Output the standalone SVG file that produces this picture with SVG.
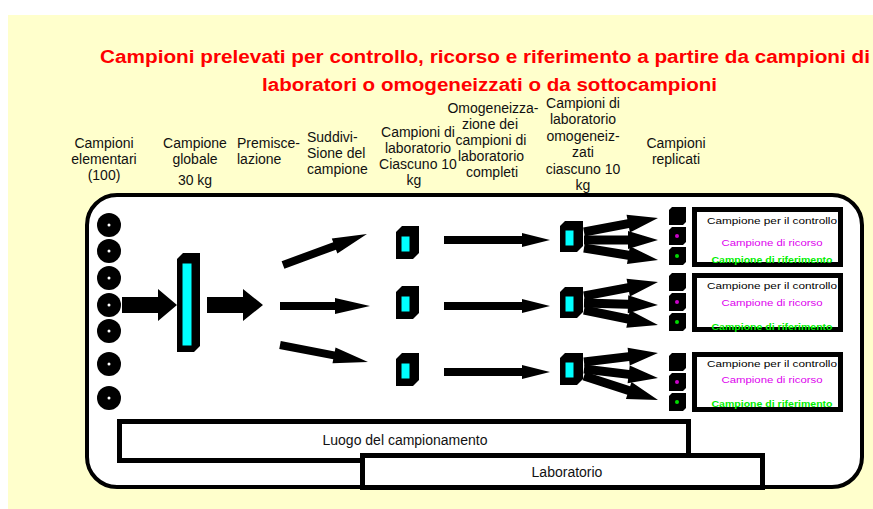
<svg xmlns="http://www.w3.org/2000/svg" width="873" height="509" viewBox="0 0 873 509">
<style>
.lbl{font-family:"Liberation Sans",Arial,sans-serif;font-size:14px;fill:#111;text-anchor:middle}
.lbs{font-family:"Liberation Sans",Arial,sans-serif;font-size:14px;fill:#111}
.ttl{font-family:"Liberation Sans",Arial,sans-serif;font-size:18px;font-weight:bold;fill:#FF0000;text-anchor:middle}
.bt{font-family:"Liberation Sans",Arial,sans-serif;font-size:9.5px;text-anchor:middle}
.blk{fill:#000}
.cy{fill:#00FFFF;stroke:#000;stroke-width:1}
.box{fill:#fff;stroke:#000;stroke-width:5}
.arr{fill:#000}
</style>
<rect x="8" y="15" width="865" height="494" fill="#FFFFCC"/>
<text class="ttl" x="485" y="63" textLength="770" lengthAdjust="spacingAndGlyphs">Campioni prelevati per controllo, ricorso e riferimento a partire da campioni di</text>
<text class="ttl" x="489.5" y="91" textLength="455" lengthAdjust="spacingAndGlyphs">laboratori o omogeneizzati o da sottocampioni</text>

<g id="labels">
<text class="lbl" x="104" y="148">Campioni</text>
<text class="lbl" x="104" y="164">elementari</text>
<text class="lbl" x="104" y="180">(100)</text>
<text class="lbl" x="195" y="148">Campione</text>
<text class="lbl" x="195" y="164">globale</text>
<text class="lbl" x="195" y="185">30 kg</text>
<text class="lbs" x="237" y="148">Premisce-</text>
<text class="lbs" x="237" y="164">lazione</text>
<text class="lbs" x="307" y="142">Suddivi-</text>
<text class="lbs" x="307" y="158">Sione del</text>
<text class="lbs" x="307" y="174">campione</text>
<text class="lbl" x="418" y="137">Campioni di</text>
<text class="lbl" x="418" y="153">laboratorio</text>
<text class="lbl" x="418" y="169">Ciascuno 10</text>
<text class="lbl" x="414" y="185">kg</text>
<text class="lbl" x="493" y="113">Omogeneizza-</text>
<text class="lbl" x="490" y="129">zione dei</text>
<text class="lbl" x="491" y="145">campioni di</text>
<text class="lbl" x="491" y="161">laboratorio</text>
<text class="lbl" x="492" y="177">completi</text>
<text class="lbl" x="583" y="108">Campioni di</text>
<text class="lbl" x="583" y="124">laboratorio</text>
<text class="lbl" x="583" y="141">omogeneiz-</text>
<text class="lbl" x="583" y="157">zati</text>
<text class="lbl" x="583" y="174">ciascuno 10</text>
<text class="lbl" x="583" y="190">kg</text>
<text class="lbl" x="676" y="148">Campioni</text>
<text class="lbl" x="676" y="164">replicati</text>
</g>

<rect id="frame" x="87" y="195" width="775" height="292" rx="30" ry="30" fill="#fff" stroke="#000" stroke-width="4"/>

<g id="elementari">
<circle cx="109" cy="225" r="12" class="blk"/><circle cx="109" cy="225" r="1.5" fill="#fff"/>
<circle cx="109" cy="251" r="12" class="blk"/><circle cx="109" cy="251" r="1.5" fill="#fff"/>
<circle cx="109" cy="278" r="12" class="blk"/><circle cx="109" cy="278" r="1.5" fill="#fff"/>
<circle cx="109" cy="305" r="12" class="blk"/><circle cx="109" cy="305" r="1.5" fill="#fff"/>
<circle cx="109" cy="331" r="12" class="blk"/><circle cx="109" cy="331" r="1.5" fill="#fff"/>
<circle cx="109" cy="364" r="12" class="blk"/><circle cx="109" cy="364" r="1.5" fill="#fff"/>
<circle cx="109" cy="398" r="12" class="blk"/><circle cx="109" cy="398" r="1.5" fill="#fff"/>
</g>

<g id="globale">
<polygon class="blk" points="177,259 183,253 200,253 200,346 194,352 177,352"/>
<rect class="cy" x="182" y="263" width="10" height="83"/>
</g>

<g id="lab1">
<polygon class="blk" points="396,232 402,226 419,226 419,253 413,259 396,259"/>
<rect class="cy" x="401" y="236" width="9" height="16"/>
</g>
<g id="lab2">
<polygon class="blk" points="396,292 402,286 419,286 419,313 413,319 396,319"/>
<rect class="cy" x="401" y="296" width="9" height="16"/>
</g>
<g id="lab3">
<polygon class="blk" points="396,359 402,353 419,353 419,380 413,386 396,386"/>
<rect class="cy" x="401" y="363" width="9" height="16"/>
</g>

<g id="omog1">
<polygon class="blk" points="560,226 565,221 583,221 583,246 577,252 560,252"/>
<rect class="cy" x="565" y="230" width="9" height="16"/>
</g>
<g id="omog2">
<polygon class="blk" points="560,292 565,287 583,287 583,312 577,318 560,318"/>
<rect class="cy" x="565" y="296" width="9" height="16"/>
</g>
<g id="omog3">
<polygon class="blk" points="560,358 565,353 583,353 583,379 577,385 560,385"/>
<rect class="cy" x="565" y="362" width="9" height="16"/>
</g>

<g id="repl1">
<polygon class="blk" points="672,207 686,207 686,222 683,225 669,225 669,210"/>
<polygon class="blk" points="672,227 686,227 686,242 683,245 669,245 669,230"/>
<circle cx="677" cy="236" r="2" fill="#CC00CC"/>
<polygon class="blk" points="672,247 686,247 686,262 683,265 669,265 669,250"/>
<circle cx="677" cy="256" r="2" fill="#00DD00"/>
</g>
<g id="repl2">
<polygon class="blk" points="672,273 686,273 686,288 683,291 669,291 669,276"/>
<polygon class="blk" points="672,293 686,293 686,308 683,311 669,311 669,296"/>
<circle cx="677" cy="302" r="2" fill="#CC00CC"/>
<polygon class="blk" points="672,313 686,313 686,328 683,331 669,331 669,316"/>
<circle cx="677" cy="322" r="2" fill="#00DD00"/>
</g>
<g id="repl3">
<polygon class="blk" points="672,353 686,353 686,368 683,371 669,371 669,356"/>
<polygon class="blk" points="672,373 686,373 686,388 683,391 669,391 669,376"/>
<circle cx="677" cy="382" r="2" fill="#CC00CC"/>
<polygon class="blk" points="672,393 686,393 686,408 683,411 669,411 669,396"/>
<circle cx="677" cy="402" r="2" fill="#00DD00"/>
</g>

<g id="box1">
<rect class="box" x="694.5" y="209.5" width="146" height="55"/>
<text class="bt" x="772" y="224" fill="#000" textLength="130" lengthAdjust="spacingAndGlyphs">Campione per il controllo</text>
<text class="bt" x="772" y="246" fill="#DD00EE" textLength="101" lengthAdjust="spacingAndGlyphs">Campione di ricorso</text>
<text class="bt" x="772" y="263" fill="#00EE00" font-weight="bold" textLength="121" lengthAdjust="spacingAndGlyphs">Campione di riferimento</text>
</g>
<g id="box2">
<rect class="box" x="694.5" y="275.5" width="146" height="54"/>
<text class="bt" x="772" y="289" fill="#000" textLength="130" lengthAdjust="spacingAndGlyphs">Campione per il controllo</text>
<text class="bt" x="772" y="306" fill="#DD00EE" textLength="101" lengthAdjust="spacingAndGlyphs">Campione di ricorso</text>
<text class="bt" x="772" y="330" fill="#00EE00" font-weight="bold" textLength="121" lengthAdjust="spacingAndGlyphs">Campione di riferimento</text>
</g>
<g id="box3">
<rect class="box" x="694.5" y="354.5" width="146" height="55"/>
<text class="bt" x="772" y="367" fill="#000" textLength="130" lengthAdjust="spacingAndGlyphs">Campione per il controllo</text>
<text class="bt" x="772" y="383" fill="#DD00EE" textLength="101" lengthAdjust="spacingAndGlyphs">Campione di ricorso</text>
<text class="bt" x="772" y="407" fill="#00EE00" font-weight="bold" textLength="121" lengthAdjust="spacingAndGlyphs">Campione di riferimento</text>
</g>

<g id="luogo">
<rect class="box" x="119.5" y="421.5" width="569" height="39"/>
<text class="lbl" x="405" y="445">Luogo del campionamento</text>
</g>
<g id="laboratorio">
<rect class="box" x="362.5" y="455.5" width="400" height="32"/>
<text class="lbl" x="567" y="477">Laboratorio</text>
</g>

<g id="connectors">
<polygon class="arr" points="122,297 158,297 158,289 177,305 158,321 158,313 122,313"/>
<polygon class="arr" points="207,297 243,297 243,289 263,305 243,321 243,313 207,313"/>
<path class="arr" transform="translate(283,265) rotate(-20.3)" d="M0,-4 L55,-4 L55,-8 L89.5,0 L55,8 L55,4 L0,4Z"/>
<path class="arr" transform="translate(280,306)" d="M0,-4 L55,-4 L55,-8 L90,0 L55,8 L55,4 L0,4Z"/>
<path class="arr" transform="translate(280,345) rotate(10.9)" d="M0,-4 L55,-4 L55,-8 L89.6,0 L55,8 L55,4 L0,4Z"/>
<path class="arr" transform="translate(444,240)" d="M0,-4 L78,-4 L78,-7 L106,0 L78,7 L78,4 L0,4Z"/>
<path class="arr" transform="translate(444,306)" d="M0,-4 L78,-4 L78,-7 L106,0 L78,7 L78,4 L0,4Z"/>
<path class="arr" transform="translate(444,372)" d="M0,-4 L78,-4 L78,-7 L106,0 L78,7 L78,4 L0,4Z"/>
<path class="arr" transform="translate(584,232) rotate(-10.7)" d="M0,-4.5 L45,-4.5 L45,-9 L75.3,0 L45,9 L45,4.5 L0,4.5Z"/>
<path class="arr" transform="translate(584,240)" d="M0,-4.5 L44,-4.5 L44,-9 L74,0 L44,9 L44,4.5 L0,4.5Z"/>
<path class="arr" transform="translate(584,248) rotate(9.2)" d="M0,-4.5 L45,-4.5 L45,-9 L75,0 L45,9 L45,4.5 L0,4.5Z"/>
<path class="arr" transform="translate(584,296) rotate(-10.7)" d="M0,-4.5 L45,-4.5 L45,-9 L75.3,0 L45,9 L45,4.5 L0,4.5Z"/>
<path class="arr" transform="translate(584,303) rotate(1.5)" d="M0,-4.5 L44,-4.5 L44,-9 L74,0 L44,9 L44,4.5 L0,4.5Z"/>
<path class="arr" transform="translate(584,310) rotate(11.5)" d="M0,-4.5 L45,-4.5 L45,-9 L75.5,0 L45,9 L45,4.5 L0,4.5Z"/>
<path class="arr" transform="translate(584,362) rotate(-6.9)" d="M0,-4.5 L45,-4.5 L45,-9 L74.5,0 L45,9 L45,4.5 L0,4.5Z"/>
<path class="arr" transform="translate(584,369) rotate(6.9)" d="M0,-4.5 L45,-4.5 L45,-9 L74.5,0 L45,9 L45,4.5 L0,4.5Z"/>
<path class="arr" transform="translate(584,376) rotate(18)" d="M0,-4.5 L47,-4.5 L47,-9 L77.8,0 L47,9 L47,4.5 L0,4.5Z"/>
</g>
</svg>
